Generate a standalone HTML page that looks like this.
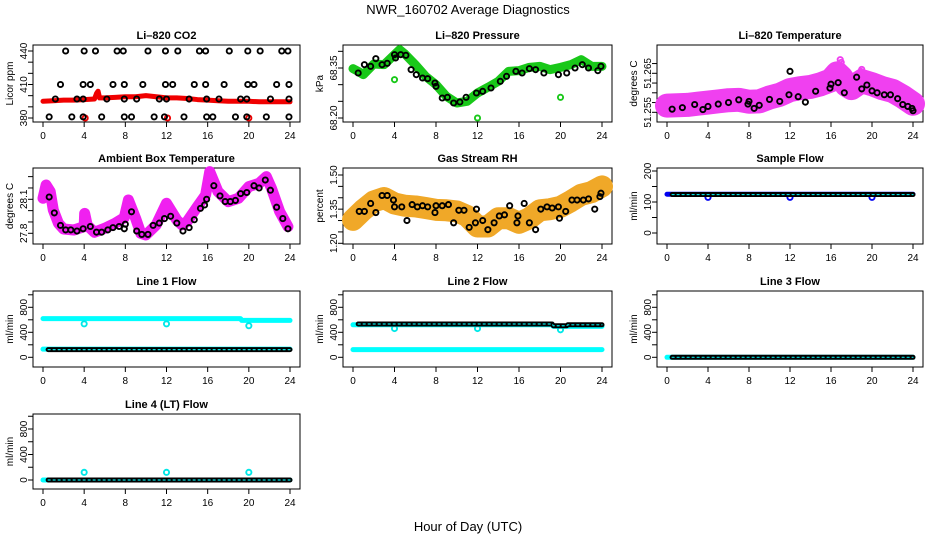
<!DOCTYPE html>
<html><head><meta charset="utf-8"><style>
html,body{margin:0;padding:0;background:#fff;}
svg{display:block;font-family:"Liberation Sans",sans-serif;}
</style></head><body>
<svg id="chart" width="936" height="540" viewBox="0 0 936 540" xmlns="http://www.w3.org/2000/svg">
<text x="468" y="14" text-anchor="middle" font-size="13">NWR_160702  Average Diagnostics</text>
<text x="468" y="531" text-anchor="middle" font-size="13">Hour of Day (UTC)</text>
</svg>
<script>
// ---- data ----
const xTicks=[0,4,8,12,16,20,24];
// P1 CO2
const co2BandH=[0,1,2,3,4,5,5.2,5.35,5.5,6,7,8,9,10,11,12,13,14,15,16,17,18,19,20,21,22,23,24];
const co2BandV=[395,395.5,396,396,396.5,397,402,404,398,398,398.5,399,399,400,399,398,398,397.5,396.5,396,395.5,395,395,395,394.5,394.5,394.5,394.5];
const co2RedOutH=[4.1,12.1,20.0];
const co2RedOutV=[380,380,380];
const co2BlkH=[2.2,4.0,5.1,7.2,7.8,10.2,11.9,13.1,15.2,15.8,18.1,19.9,21.1,23.2,23.8,1.7,3.9,4.6,6.8,7.9,9.7,11.9,12.6,14.7,15.8,17.6,19.9,20.5,22.7,23.9,1.2,3.3,3.9,6.2,7.9,9.1,11.3,12.0,14.2,15.9,17.1,19.2,19.8,22.1,23.9,0.6,2.8,3.9,5.7,7.9,8.6,10.8,11.8,13.7,15.9,16.5,18.7,19.8,21.7,23.9];
const co2BlkV=[440,440,440,440,440,440,440,440,440,440,440,440,440,440,440,410,410,410,410,410,410,410,410,410,410,410,410,410,410,410,397,397,397,397,397,397,397,397,397,397,397,397,397,397,397,381,381,381,381,381,381,381,381,381,381,381,381,381,381,381];
// P2 pressure
const prBandH=[0,0.5,1,2,3,4,4.5,5,6,7,8,9,10,11,12,13,14,15,16,17,18,19,20,21,22,23,24];
const prBandV=[68.348,68.34,68.33,68.362,68.36,68.39,68.405,68.392,68.36,68.325,68.30,68.265,68.245,68.25,68.275,68.292,68.31,68.34,68.342,68.352,68.355,68.345,68.352,68.36,68.375,68.355,68.355];
const prOutH=[4.0,12.0,20.0];
const prOutV=[68.315,68.20,68.262];
const prBlkH=[0.5,1.1,1.7,2.2,2.8,3.3,4.0,4.1,4.6,5.1,5.6,6.1,6.7,7.2,7.9,8.0,8.6,9.1,9.7,10.3,10.9,11.9,12.5,13.3,14.2,14.8,15.7,16.3,17.0,17.6,18.4,19.8,20.6,21.4,22.1,22.7,23.6,23.9];
const prBlkV=[68.335,68.36,68.355,68.378,68.36,68.364,68.39,68.38,68.39,68.388,68.345,68.33,68.32,68.318,68.305,68.295,68.26,68.262,68.245,68.248,68.262,68.275,68.28,68.29,68.31,68.325,68.34,68.335,68.348,68.345,68.335,68.33,68.335,68.35,68.36,68.35,68.342,68.355];
// P3 Li-820 temperature
const ltBandH=[0,1,2,3,4,5,6,7,8,9,10,11,12,13,14,15,16,16.6,17,17.5,18,19,20,21,22,23,24];
const ltBandV=[51.2567,51.2568,51.2569,51.2572,51.2575,51.2578,51.2581,51.2582,51.2577,51.2578,51.2588,51.2595,51.2607,51.2612,51.2615,51.2622,51.2632,51.2650,51.2640,51.2620,51.2612,51.2630,51.2622,51.2612,51.2605,51.2590,51.2572];
const ltOutH=[16.9,17.0,18.9,19.0];
const ltOutV=[51.2685,51.2678,51.2655,51.2660];
const ltBlkH=[0.5,1.5,2.7,3.5,4.0,5.0,6.0,7.0,7.9,8.0,8.5,9.0,10.0,11.0,11.9,12.0,12.8,13.5,14.5,15.9,16.0,16.7,17.3,18.5,19.0,19.5,20.0,20.5,21.2,21.8,22.5,23.0,23.5,23.9,24.0];
const ltBlkV=[51.2558,51.2562,51.2570,51.2557,51.2565,51.2571,51.2575,51.2582,51.2571,51.2578,51.2560,51.2568,51.2583,51.2578,51.2595,51.2655,51.2590,51.2576,51.2604,51.2612,51.2622,51.2626,51.2600,51.2640,51.2610,51.2620,51.2605,51.2600,51.2595,51.2595,51.2585,51.2570,51.2565,51.2560,51.2554];
// P4 ambient box temperature
const abBandH=[0,0.3,0.7,1,1.5,2,3,4,4.05,4.3,5,6,7,7.9,8.3,9,9.5,10,11,12,13,13.5,14,15,15.8,16.2,17,18,19,20,21,21.7,22.2,23,23.8];
const abBandV=[28.109,28.226,28.168,28.006,27.888,27.838,27.829,27.859,27.976,27.87,27.809,27.844,27.888,27.938,28.094,27.932,27.80,27.785,27.874,28.065,27.918,27.874,27.903,28.035,28.138,28.344,28.168,28.079,28.109,28.212,28.241,28.30,28.197,27.991,27.859];
const abBlkH=[0.6,1.1,1.7,2.2,2.7,3.3,3.9,4.6,5.2,5.7,6.3,6.8,7.4,7.9,8.0,8.6,9.1,9.6,10.2,10.7,11.3,11.8,12.4,13.0,13.6,14.2,14.7,15.3,15.7,15.9,16.6,17.2,17.7,18.2,18.7,19.2,19.8,20.5,21.0,21.6,22.1,22.7,23.3,23.8];
const abBlkV=[28.12,27.98,27.87,27.83,27.83,27.82,27.84,27.86,27.81,27.81,27.83,27.85,27.86,27.84,27.88,27.99,27.82,27.79,27.79,27.87,27.89,27.93,27.95,27.89,27.82,27.85,27.92,28.02,28.05,28.10,28.22,28.13,28.08,28.08,28.09,28.15,28.16,28.22,28.20,28.27,28.18,28.03,27.93,27.84];
// P5 gas stream RH
const rhBandH=[0,1,2,3,4,5,6,7,8,9,10,11,12,13,14,15,16,16.5,17,18,19,20,21,22,23,24];
const rhBandV=[1.303,1.347,1.384,1.399,1.375,1.365,1.362,1.355,1.347,1.345,1.34,1.32,1.274,1.274,1.31,1.31,1.29,1.30,1.31,1.345,1.35,1.36,1.385,1.413,1.425,1.45];
const rhBlkH=[0.6,1.1,1.7,2.2,2.8,3.3,3.9,4.0,4.7,5.2,5.7,6.2,6.7,7.2,7.9,8.0,8.6,9.2,9.7,10.2,10.7,11.2,11.8,11.9,12.5,13.0,13.6,14.1,14.6,15.1,15.8,15.9,16.5,17.0,17.6,18.1,18.7,19.2,19.8,19.9,20.5,21.1,21.6,22.2,22.7,23.3,23.8,23.9];
const rhBlkV=[1.34,1.34,1.375,1.335,1.41,1.41,1.39,1.36,1.36,1.30,1.37,1.36,1.365,1.36,1.335,1.365,1.365,1.37,1.29,1.345,1.345,1.27,1.29,1.35,1.30,1.26,1.29,1.32,1.325,1.365,1.29,1.32,1.375,1.29,1.26,1.35,1.36,1.355,1.36,1.31,1.34,1.39,1.39,1.39,1.395,1.35,1.405,1.42];
// P6 sample flow
const sfBlueH=[0,24];
const sfBlueV=[125,125];
const sfBlueOutH=[4,12,20];
const sfBlueOutV=[115,115,115];
const sfBlkH=[0.5,24];
const sfBlkV=[124,124];
// P7 line 1
const l1CyHiH=[0,19.2,19.3,24];
const l1CyHiV=[619,619,590,590];
const l1CyLoH=[0,24];
const l1CyLoV=[130,130];
const l1CyOutH=[4,12,20];
const l1CyOutV=[535,535,505];
const l1BlkH=[0.5,24];
const l1BlkV=[123,123];
// P8 line 2
const l2CyHiH=[0,19.2,19.3,24];
const l2CyHiV=[520,520,495,495];
const l2CyLoH=[0,24];
const l2CyLoV=[123,123];
const l2CyOutH=[4,12,20];
const l2CyOutV=[460,460,440];
const l2BlkH=[0.5,19.2,19.3,20.6,20.7,24];
const l2BlkV=[533,533,505,505,520,520];
// P9 line 3
const l3CyH=[0,24];
const l3CyV=[0,0];
const l3BlkH=[0.5,24];
const l3BlkV=[0,0];
// P10 line 4
const l4CyH=[0,24];
const l4CyV=[0,0];
const l4CyOutH=[4,12,20];
const l4CyOutV=[120,120,120];
const l4BlkH=[0.5,24];
const l4BlkV=[0,0];

// ---- layout ----
const svg=document.getElementById('chart');
const NS='http://www.w3.org/2000/svg';
function el(tag,attrs,parent){const e=document.createElementNS(NS,tag);for(const k in attrs)e.setAttribute(k,attrs[k]);(parent||svg).appendChild(e);return e;}
const cols=[[33,300],[343,612],[657,923]];
const rows=[[45,122],[168,244],[291,367],[414,489]];

function panel(name,title,ytitle,c,r,v1,y1,v2,y2,ticks,labels){
  const g=el('g',{});
  
  
  const L=cols[c][0],R=cols[c][1],T=rows[r][0],B=rows[r][1];
  const sx=h=>L+10+(h/24)*(R-L-20);
  const sy=v=>y1+(v-v1)*(y2-y1)/(v2-v1);
  const box=el('rect',{x:L,y:T,width:R-L,height:B-T,fill:'none',stroke:'#000','stroke-width':1},g);
  
  
  const t=el('text',{x:(L+R)/2,y:T-6,'text-anchor':'middle','font-size':11,'font-weight':'bold'},g);
  t.textContent=title;
  
  
  const yt=el('text',{transform:`translate(${L-20},${(T+B)/2}) rotate(-90)`,'text-anchor':'middle','font-size':10},g);
  yt.textContent=ytitle;
  
  
  el('line',{x1:sx(0),x2:sx(24),y1:B,y2:B,stroke:'#000'},g);
  xTicks.forEach(h=>{
    el('line',{x1:sx(h),x2:sx(h),y1:B,y2:B+5,stroke:'#000'},g);
    const tx=el('text',{x:sx(h),y:B+17,'text-anchor':'middle','font-size':10},g);
    tx.textContent=h;
    
    
  });
  const ya=ticks.map(sy);
  el('line',{x1:L,x2:L,y1:Math.min(...ya),y2:Math.max(...ya),stroke:'#000'},g);
  ticks.forEach(v=>el('line',{x1:L-5,x2:L,y1:sy(v),y2:sy(v),stroke:'#000'},g));
  labels.forEach(lb=>{
    const ty=el('text',{transform:`translate(${L-6},${sy(parseFloat(lb))}) rotate(-90)`,'text-anchor':'middle','font-size':10},g);
    ty.textContent=lb;
    
    
  });
  return {g,sx,sy};
}
function band(p,H,V,color,w,nm){
  const pts=H.map((h,i)=>p.sx(h)+','+p.sy(V[i])).join(' ');
  const e=el('polyline',{points:pts,fill:'none',stroke:color,'stroke-width':w,'stroke-linejoin':'round','stroke-linecap':'round'},p.g);
  
  
  return e;
}
function dots(p,H,V,color,nm,r){
  H.forEach((h,i)=>{
    const e=el('circle',{cx:p.sx(h),cy:p.sy(V[i]),r:r||2.6,fill:'none',stroke:color,'stroke-width':1.9},p.g);
    
    
  });
}
function flow(p,H,V,nm){
  band(p,H,V,'#000',5,nm);
  const e=band(p,H,V,'#00e0e0',1.2,nm+'-inner');
  e.setAttribute('stroke-dasharray','2 3');
}

let p;
p=panel('co2','Li\u2013820 CO2','Licor ppm',0,0,380,118,440,51,[380,390,400,410,420,430,440],['380','410','440']);
band(p,co2BandH,co2BandV,'#f00000',5,'co2-band');
dots(p,co2RedOutH,co2RedOutV,'#f00000','co2-red-point');
dots(p,co2BlkH,co2BlkV,'#000','co2-black-point');

p=panel('pressure','Li\u2013820 Pressure','kPa',1,0,68.20,118,68.35,68,[68.20,68.25,68.30,68.35,68.40],['68.20','68.35']);
band(p,prBandH,prBandV,'#19c819',9,'pressure-band');
dots(p,prOutH,prOutV,'#19c819','pressure-green-point');
dots(p,prBlkH,prBlkV,'#000','pressure-black-point');

p=panel('li820temp','Li\u2013820 Temperature','degrees C',2,0,51.255,112.3,51.265,73.3,[51.255,51.2575,51.26,51.2625,51.265,51.2675],['51.255','51.265']);
band(p,ltBandH,ltBandV,'#f040f0',24,'li820temp-band');
dots(p,ltOutH,ltOutV,'#f040f0','li820temp-magenta-point');
dots(p,ltBlkH,ltBlkV,'#000','li820temp-black-point');

p=panel('ambient','Ambient Box Temperature','degrees C',0,1,27.8,233.3,28.1,199.3,[27.8,27.9,28.0,28.1,28.2,28.3],['27.8','28.1']);
band(p,abBandH,abBandV,'#f020f0',11,'ambient-band');
dots(p,abBlkH,abBlkV,'#000','ambient-black-point');

p=panel('rh','Gas Stream RH','percent',1,1,1.20,243.3,1.50,175,[1.20,1.25,1.30,1.35,1.40,1.45,1.50],['1.20','1.35','1.50']);
band(p,rhBandH,rhBandV,'#f0a828',22,'rh-band');
dots(p,rhBlkH,rhBlkV,'#000','rh-black-point');

p=panel('sampleflow','Sample Flow','ml/min',2,1,0,233,200,171,[0,50,100,150,200],['0','100','200']);
band(p,sfBlueH,sfBlueV,'#0000f0',5,'sampleflow-blue-band');
dots(p,sfBlueOutH,sfBlueOutV,'#0000f0','sampleflow-blue-point');
flow(p,sfBlkH,sfBlkV,'sampleflow-black-series');

p=panel('line1','Line 1 Flow','ml/min',0,2,0,357.3,800,307.3,[0,200,400,600,800,1000],['0','400','800']);
band(p,l1CyHiH,l1CyHiV,'#00ffff',5,'line1-cyan-high');
band(p,l1CyLoH,l1CyLoV,'#00ffff',5,'line1-cyan-low');
dots(p,l1CyOutH,l1CyOutV,'#00e8e8','line1-cyan-point');
flow(p,l1BlkH,l1BlkV,'line1-black-series');

p=panel('line2','Line 2 Flow','ml/min',1,2,0,357.3,800,307.3,[0,200,400,600,800,1000],['0','400','800']);
band(p,l2CyHiH,l2CyHiV,'#00ffff',5,'line2-cyan-high');
band(p,l2CyLoH,l2CyLoV,'#00ffff',5,'line2-cyan-low');
dots(p,l2CyOutH,l2CyOutV,'#00e8e8','line2-cyan-point');
flow(p,l2BlkH,l2BlkV,'line2-black-series');

p=panel('line3','Line 3 Flow','ml/min',2,2,0,357.3,800,307.3,[0,200,400,600,800,1000],['0','400','800']);
band(p,l3CyH,l3CyV,'#00ffff',5,'line3-cyan-band');
flow(p,l3BlkH,l3BlkV,'line3-black-series');

p=panel('line4','Line 4 (LT) Flow','ml/min',0,3,0,480,800,429,[0,200,400,600,800,1000],['0','400','800']);
band(p,l4CyH,l4CyV,'#00ffff',5,'line4-cyan-band');
dots(p,l4CyOutH,l4CyOutV,'#00e8e8','line4-cyan-point');
flow(p,l4BlkH,l4BlkV,'line4-black-series');
</script>
</body></html>
